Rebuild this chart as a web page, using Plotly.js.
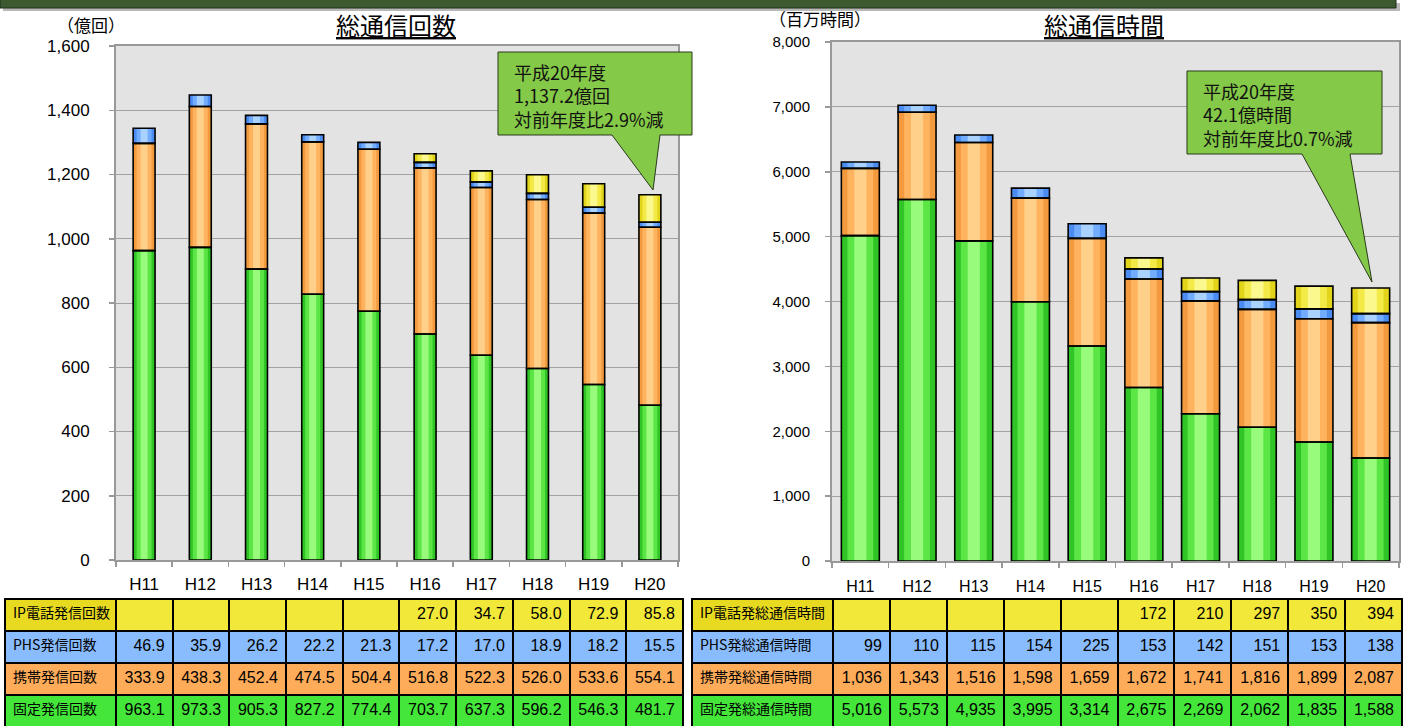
<!DOCTYPE html>
<html>
<head>
<meta charset="utf-8">
<script src="https://cdn.plot.ly/plotly-3.0.1.min.js"></script>
<style>
  html, body { margin: 0; padding: 0; background: #ffffff; }
  #chart { width: 1409px; height: 727px; }
</style>
</head>
<body>
<div id="chart"></div>
<script>
// ---------------- data ----------------
const years = ['H11', 'H12', 'H13', 'H14', 'H15', 'H16', 'H17', 'H18', 'H19', 'H20'];

// 総通信回数 (億回)
const ipCount     = [null, null, null, null, null, 27.0, 34.7, 58.0, 72.9, 85.8];
const phsCount    = [46.9, 35.9, 26.2, 22.2, 21.3, 17.2, 17.0, 18.9, 18.2, 15.5];
const mobileCount = [333.9, 438.3, 452.4, 474.5, 504.4, 516.8, 522.3, 526.0, 533.6, 554.1];
const fixedCount  = [963.1, 973.3, 905.3, 827.2, 774.4, 703.7, 637.3, 596.2, 546.3, 481.7];

// 総通信時間 (百万時間)
const ipTime     = [null, null, null, null, null, 172, 210, 297, 350, 394];
const phsTime    = [99, 110, 115, 154, 225, 153, 142, 151, 153, 138];
const mobileTime = [1036, 1343, 1516, 1598, 1659, 1672, 1741, 1816, 1899, 2087];
const fixedTime  = [5016, 5573, 4935, 3995, 3314, 2675, 2269, 2062, 1835, 1588];

const countLabels = ['IP電話発信回数', 'PHS発信回数', '携帯発信回数', '固定発信回数'];
const timeLabels  = ['IP電話発総通信時間', 'PHS発総通信時間', '携帯発総通信時間', '固定発総通信時間'];

const leftTitle  = '総通信回数';
const rightTitle = '総通信時間';
const leftUnit   = '（億回）';
const rightUnit  = '（百万時間）';
const leftNote   = ['平成20年度', '1,137.2億回', '対前年度比2.9%減'];
const rightNote  = ['平成20年度', '42.1億時間', '対前年度比0.7%減'];

// ---------------- styling ----------------
const W = 1409, H = 727;
const px = x => x / W;
const py = y => 1 - y / H;

const palette = {
  fixed:  { outer: '#30c426', mid: '#5be646', inner: '#98fb7c', cell: '#44e63a' },
  mobile: { outer: '#f39a3e', mid: '#ffb35e', inner: '#ffd08a', cell: '#ffac5a' },
  phs:    { outer: '#4a8cf2', mid: '#72acff', inner: '#a9d2ff', cell: '#88bcff' },
  ip:     { outer: '#e2d41a', mid: '#f3ea48', inner: '#fbf88e', cell: '#f2e83a' }
};

const latin = 'Liberation Sans, Arial, sans-serif';
const narrow = 'Liberation Sans Narrow, Arial Narrow, Liberation Sans, sans-serif';
const cjk = 'Noto Sans CJK JP, sans-serif';

function stackTraces(series, xa, ya, w) {
  const traces = [];
  const outlines = [];
  const cum = years.map(() => 0);
  series.forEach(s => {
    const base = cum.slice();
    const layers = [[1.0, s.col.outer], [0.68, s.col.mid], [0.32, s.col.inner]];
    layers.forEach(([f, c]) => {
      traces.push({
        type: 'bar', x: years, y: s.vals, base: base, width: w * f,
        marker: { color: c, line: { width: 0 } },
        xaxis: xa, yaxis: ya, hoverinfo: 'skip', showlegend: false
      });
    });
    outlines.push({
      type: 'bar', x: years, y: s.vals, base: base, width: w,
      marker: { color: 'rgba(0,0,0,0)', line: { color: '#000000', width: 1.6 } },
      xaxis: xa, yaxis: ya, hoverinfo: 'skip', showlegend: false
    });
    s.vals.forEach((v, i) => { cum[i] += (v || 0); });
  });
  return traces.concat(outlines);
}

const leftSeries = [
  { vals: fixedCount, col: palette.fixed },
  { vals: mobileCount, col: palette.mobile },
  { vals: phsCount, col: palette.phs },
  { vals: ipCount, col: palette.ip }
];
const rightSeries = [
  { vals: fixedTime, col: palette.fixed },
  { vals: mobileTime, col: palette.mobile },
  { vals: phsTime, col: palette.phs },
  { vals: ipTime, col: palette.ip }
];

function fmt1(v) { return v == null ? '' : v.toFixed(1); }
function fmtInt(v) { return v == null ? '' : v.toLocaleString('en-US'); }

function tableTrace(labels, ip, phs, mob, fix, f, xd, labelW, colW) {
  const headerVals = [labels[0]].concat(ip.map(f));
  const cellVals = [[labels[1], labels[2], labels[3]]].concat(
    years.map((_, i) => [f(phs[i]), f(mob[i]), f(fix[i])]));
  const n = years.length + 1;
  const colFill = [palette.phs.cell, palette.mobile.cell, palette.fixed.cell];
  return {
    type: 'table',
    domain: { x: xd, y: [0, py(599)] },
    columnwidth: [labelW].concat(years.map(() => colW)),
    header: {
      values: headerVals,
      height: 32,
      align: ['left'].concat(years.map(() => 'right')),
      fill: { color: [ '#e8da20' ].concat(years.map(() => palette.ip.cell)) },
      line: { color: '#000000', width: 2 },
      font: { family: [cjk].concat(years.map(() => narrow)), size: [14].concat(years.map(() => 16)), color: '#000' }
    },
    cells: {
      values: cellVals,
      height: 32,
      align: ['left'].concat(years.map(() => 'right')),
      fill: { color: Array.from({ length: n }, () => colFill) },
      line: { color: '#000000', width: 2 },
      font: { family: [cjk].concat(years.map(() => narrow)), size: [14].concat(years.map(() => 16)), color: '#000' }
    }
  };
}

const data = []
  .concat(stackTraces(leftSeries, 'x', 'y', 0.39))
  .concat(stackTraces(rightSeries, 'x2', 'y2', 0.67))
  .concat([
    tableTrace(countLabels, ipCount, phsCount, mobileCount, fixedCount, fmt1, [px(5), px(683)], 111, 56.8),
    tableTrace(timeLabels, ipTime, phsTime, mobileTime, fixedTime, fmtInt, [px(692), px(1402)], 141, 56.9)
  ]);

function xAxis(dom, size, standoff) {
  return {
    domain: dom, type: 'category', tickson: 'boundaries',
    ticks: 'outside', ticklen: 5, tickcolor: '#999999', tickwidth: 1.5,
    showline: true, linecolor: '#999999', linewidth: 2, mirror: true,
    showgrid: false, zeroline: false, fixedrange: true,
    tickfont: { family: latin, size: size, color: '#000' },
    ticklabelstandoff: standoff
  };
}
function yAxis(dom, max, dtick, size, standoff, anchor) {
  return {
    domain: dom, range: [0, max], dtick: dtick, tickformat: ',',
    ticks: 'outside', ticklen: 5, tickcolor: '#999999', tickwidth: 1.5,
    showline: true, linecolor: '#999999', linewidth: 2, mirror: true,
    showgrid: true, gridcolor: '#a2a2a2', gridwidth: 1, zeroline: false, fixedrange: true,
    tickfont: { family: latin, size: size, color: '#000' },
    ticklabelstandoff: standoff, anchor: anchor
  };
}

function calloutPath(bx0, by0, bx1, by1, p0, p1, tx, ty) {
  const P = (x, y) => px(x).toFixed(5) + ',' + py(y).toFixed(5);
  return 'M' + P(bx0, by0) + ' L' + P(bx1, by0) + ' L' + P(bx1, by1) +
         ' L' + P(p1, by1) + ' L' + P(tx, ty) + ' L' + P(p0, by1) +
         ' L' + P(bx0, by1) + ' Z';
}

const shapes = [
  // slide header band
  { type: 'rect', xref: 'paper', yref: 'paper', x0: px(3), x1: px(1400), y0: py(11), y1: py(3),
    fillcolor: '#b8b8b8', line: { width: 0 }, layer: 'above' },
  { type: 'rect', xref: 'paper', yref: 'paper', x0: px(0), x1: px(1396), y0: py(8), y1: py(-2),
    fillcolor: '#3b5a30', line: { color: '#1e2e18', width: 1 }, layer: 'above' },
  // callouts
  { type: 'path', xref: 'paper', yref: 'paper', layer: 'above',
    path: calloutPath(498, 52, 692, 135, 612, 660, 653, 190),
    fillcolor: '#84c947', line: { color: '#2a3a1c', width: 1 } },
  { type: 'path', xref: 'paper', yref: 'paper', layer: 'above',
    path: calloutPath(1187, 71, 1382, 154, 1302, 1350, 1372, 282),
    fillcolor: '#84c947', line: { color: '#2a3a1c', width: 1 } }
];

const annotations = [
  { xref: 'paper', yref: 'paper', x: px(396), y: py(24), xanchor: 'center', yanchor: 'middle', showarrow: false,
    text: '<u>' + leftTitle + '</u>', font: { family: cjk, size: 24, color: '#000' } },
  { xref: 'paper', yref: 'paper', x: px(1104), y: py(24), xanchor: 'center', yanchor: 'middle', showarrow: false,
    text: '<u>' + rightTitle + '</u>', font: { family: cjk, size: 24, color: '#000' } },
  { xref: 'paper', yref: 'paper', x: px(91), y: py(24), xanchor: 'center', yanchor: 'middle', showarrow: false,
    text: leftUnit, font: { family: cjk, size: 17, color: '#000' } },
  { xref: 'paper', yref: 'paper', x: px(820), y: py(18), xanchor: 'center', yanchor: 'middle', showarrow: false,
    text: rightUnit, font: { family: cjk, size: 17, color: '#000' } },
  { xref: 'paper', yref: 'paper', x: px(512), y: py(57), xanchor: 'left', yanchor: 'top', showarrow: false, align: 'left',
    text: leftNote.join('<br>'), font: { family: cjk, size: 18, color: '#111' } },
  { xref: 'paper', yref: 'paper', x: px(1201), y: py(76), xanchor: 'left', yanchor: 'top', showarrow: false, align: 'left',
    text: rightNote.join('<br>'), font: { family: cjk, size: 18, color: '#111' } }
];

const layout = {
  width: W, height: H,
  margin: { l: 0, r: 0, t: 0, b: 0, pad: 0 },
  paper_bgcolor: '#ffffff',
  plot_bgcolor: '#e3e3e3',
  barmode: 'overlay',
  showlegend: false,
  xaxis:  xAxis([px(116), px(678)], 17, 8),
  yaxis:  yAxis([py(560), py(46)], 1600, 200, 17, 16, 'x'),
  xaxis2: Object.assign(xAxis([px(832), px(1399)], 16, 10), { anchor: 'y2' }),
  yaxis2: yAxis([py(561), py(42)], 8000, 1000, 15, 12, 'x2'),
  shapes: shapes,
  annotations: annotations
};
layout.xaxis.anchor = 'y';

Plotly.newPlot('chart', data, layout, { displayModeBar: false, staticPlot: true });
</script>
</body>
</html>
